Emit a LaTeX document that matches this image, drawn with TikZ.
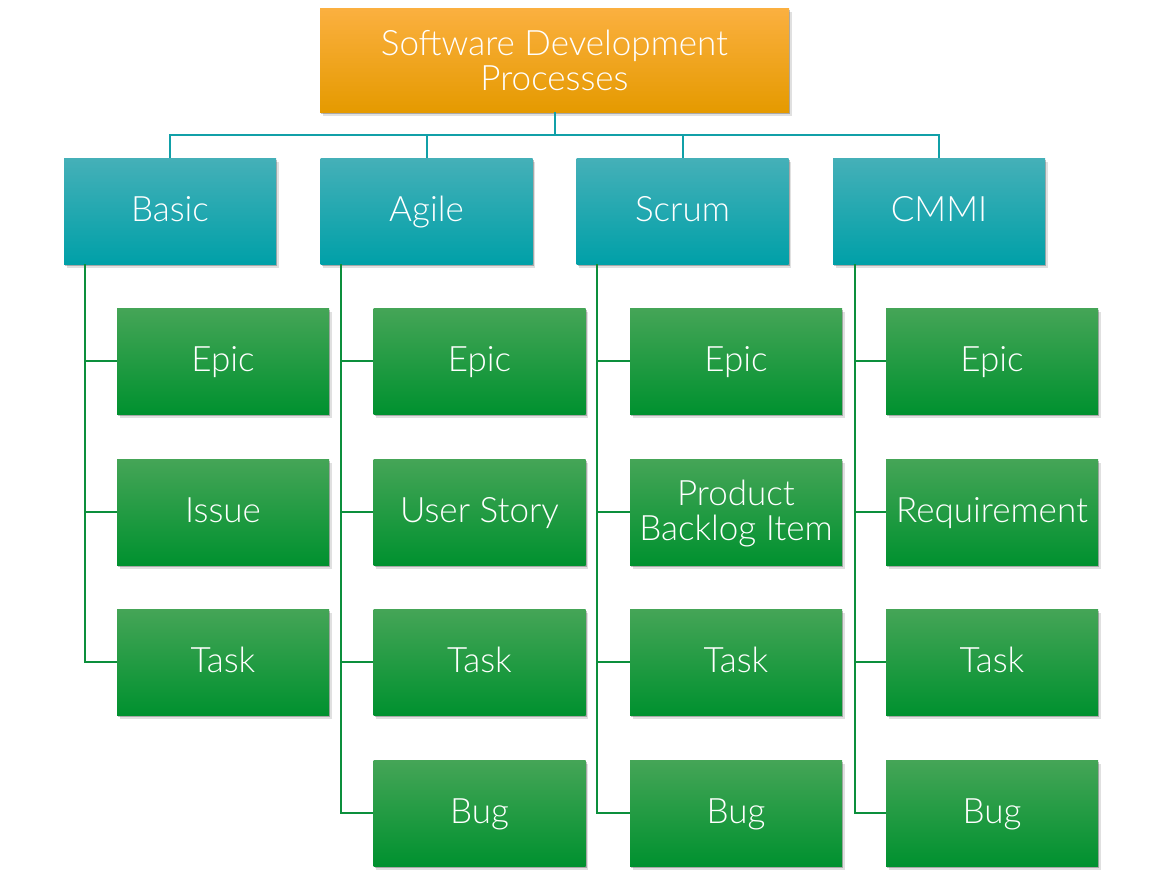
\documentclass[tikz,border=0pt]{standalone}
\usepackage{fontspec}
\setmainfont{Lato Light}
\usetikzlibrary{shadows,calc}
\definecolor{orTop}{HTML}{FBB040}
\definecolor{orMid}{HTML}{F9A800}
\definecolor{orBot}{HTML}{E59A00}
\definecolor{tlTop}{HTML}{45B0B8}
\definecolor{tlMid}{HTML}{14AEB4}
\definecolor{tlBot}{HTML}{00A0A8}
\definecolor{grTop}{HTML}{45A557}
\definecolor{grMid}{HTML}{14A03C}
\definecolor{grBot}{HTML}{00912F}
\definecolor{tlLine}{HTML}{11A0A8}
\definecolor{grLine}{HTML}{0C8F3C}
% fixed line height so that every label sits at the same level
\newcommand\labelstrut{\rule[-9pt]{0pt}{38pt}}
% extra head room for the first of two lines
\newcommand\toproom[1]{\rule{0pt}{#1}}
\tikzset{
  box/.style={rectangle, inner sep=0pt, text=white, align=center,
    font=\fontsize{35}{35}\selectfont, execute at begin node=\labelstrut,
    drop shadow={shadow xshift=1pt, shadow yshift=-2pt, opacity=0.25, fill=black},
    drop shadow={shadow xshift=2.5pt, shadow yshift=-4pt, opacity=0.12, fill=black}},
  rootbox/.style={box, minimum width=469pt, minimum height=104pt,
    top color=orTop, middle color=orMid, bottom color=orBot},
  procbox/.style={box, minimum width=212pt, minimum height=106pt,
    top color=tlTop, middle color=tlMid, bottom color=tlBot},
  itembox/.style={box, minimum width=212pt, minimum height=106pt,
    top color=grTop, middle color=grMid, bottom color=grBot},
  tlconn/.style={draw=tlLine, line width=2pt},
  grconn/.style={draw=grLine, line width=2pt},
}
\begin{document}
\begin{tikzpicture}[x=1pt,y=-1pt]
\useasboundingbox (0,0) rectangle (1163,878);
% root
\node[rootbox] (root) at (554.5,60) {\toproom{34pt}Software Development\\Processes};
% process templates
\node[procbox] (basic) at (170,211) {Basic};
\node[procbox] (agile) at (426.5,211) {Agile};
\node[procbox] (scrum) at (682.5,211) {Scrum};
\node[procbox] (cmmi)  at (939,211) {CMMI};
% work item types
\node[itembox] (b1) at (223,361) {Epic};
\node[itembox] (b2) at (223,512) {Issue};
\node[itembox] (b3) at (223,662) {Task};
\node[itembox] (a1) at (479.5,361) {Epic};
\node[itembox] (a2) at (479.5,512) {User Story};
\node[itembox] (a3) at (479.5,662) {Task};
\node[itembox] (a4) at (479.5,813) {Bug};
\node[itembox] (s1) at (736,361) {Epic};
\node[itembox] (s2) at (736,512) {\toproom{31pt}Product\\Backlog Item};
\node[itembox] (s3) at (736,662) {Task};
\node[itembox] (s4) at (736,813) {Bug};
\node[itembox] (c1) at (992,361) {Epic};
\node[itembox] (c2) at (992,512) {Requirement};
\node[itembox] (c3) at (992,662) {Task};
\node[itembox] (c4) at (992,813) {Bug};
% root to processes
\foreach \p in {basic,agile,scrum,cmmi}
  \draw[tlconn] (root.south) -- ++(0,23) -| (\p.north);
% processes to work items
\coordinate (bL) at ($(basic.south west)+(21,0)$);
\coordinate (aL) at ($(agile.south west)+(21,0)$);
\coordinate (sL) at ($(scrum.south west)+(21,0)$);
\coordinate (cL) at ($(cmmi.south west)+(22,0)$);
\foreach \c in {b1,b2,b3} \draw[grconn] (bL) |- (\c.west);
\foreach \c in {a1,a2,a3,a4} \draw[grconn] (aL) |- (\c.west);
\foreach \c in {s1,s2,s3,s4} \draw[grconn] (sL) |- (\c.west);
\foreach \c in {c1,c2,c3,c4} \draw[grconn] (cL) |- (\c.west);
\end{tikzpicture}
\end{document}
